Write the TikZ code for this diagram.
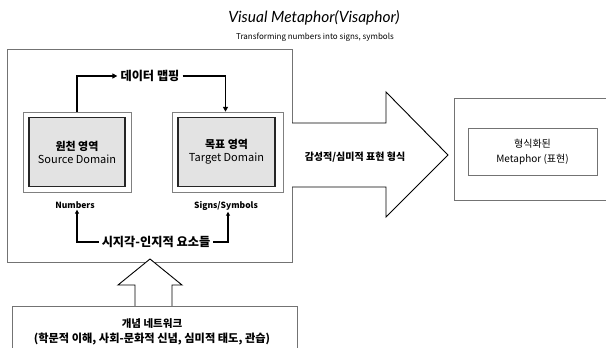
\documentclass[tikz,border=0pt]{standalone}
\usepackage{fontspec}
\setmainfont{Noto Sans CJK KR}
\newfontfamily\titlefont{Lato}
\usetikzlibrary{positioning,arrows.meta}

\begin{document}
\begin{tikzpicture}[
    x=1pt, y=-1pt,
    frame/.style={rectangle, draw=black!55, line width=0.6pt},
    outerbox/.style={rectangle, draw=black!50, line width=0.5pt, fill=white,
        minimum height=80pt},
    domainbox/.style={rectangle, draw=black!85, line width=1.6pt, fill=gray!22,
        minimum height=69pt, align=center, font=\fontsize{11}{13}\selectfont},
    tag/.style={font=\fontsize{8.5}{10}\selectfont\bfseries, inner sep=1pt},
    cue/.style={font=\fontsize{12.2}{14}\selectfont\bfseries, inner sep=3pt},
    flow/.style={-{Triangle[length=5pt,width=5pt]}, line width=1.6pt},
    link/.style={-{Triangle[length=4pt,width=4pt]}, line width=1.2pt},
    bigarrow/.style={draw=black, line width=0.9pt, fill=white}
]
\useasboundingbox (0,0) rectangle (606,348);
\clip (0,0) rectangle (606,348);

% titles
\node (title) at (314,18) {\fontsize{15.5}{17}\selectfont\titlefont\itshape Visual Metaphor(Visaphor)};
\node (subtitle) at (315,37) {\fontsize{8}{10}\selectfont Transforming numbers into signs, symbols};

% left panel
\node[frame, minimum width=285pt, minimum height=213pt] (panel) at (149.5,155.5) {};
\node[outerbox, minimum width=108pt] (srcbox) at (77,152) {};
\node[domainbox, minimum width=96pt] (src) at (77,152) {\textbf{원천 영역}\\Source Domain};
\node[outerbox, minimum width=111pt] (tgtbox) at (227.5,152) {};
\node[domainbox, minimum width=97pt] (tgt) at (226.5,152) {\textbf{목표 영역}\\Target Domain};
\node[tag] (numbers) at (75,205) {Numbers};
\node[tag] (signs) at (226,206) {Signs/Symbols};
\node[cue] (map) at (150,76) {데이터 맵핑};
\node[cue] (percept) at (156,242) {시지각-인지적 요소들};
\draw[flow] (srcbox.north) |- (map.west);
\draw[flow] (map.east) -| ([xshift=-2pt]tgtbox.north);
\draw[link] (percept.west) -| ([xshift=2pt]numbers.south);
\draw[link] (percept.east) -| ([xshift=2pt]signs.south);

% big arrow to the right
\draw[bigarrow] (292,123) -- (386,123) -- (386,92) -- (448,155) -- (386,217) -- (386,187) -- (292,187);
\node[font=\fontsize{10}{12}\selectfont\bfseries] (style) at (355,157) {감성적/심미적 표현 형식};

% result
\node[frame, minimum width=160pt, minimum height=102pt] (result) at (534,149) {};
\node[frame, minimum width=129pt, minimum height=47pt, align=center,
      font=\fontsize{10}{15}\selectfont] (meta) at (532.5,151.5) {형식화된\\Metaphor (표현)};

% concept network below
\draw[bigarrow] (135,306) -- (135,285) -- (118,285) -- (150,259) -- (182,285) -- (172,285) -- (172,306);
\node[frame, minimum width=285pt, minimum height=48pt] (network) at (154.5,330) {};
\node[font=\fontsize{10.5}{12}\selectfont\bfseries] (netname) at (152,324) {개념 네트워크};
\node[font=\fontsize{11.2}{13}\selectfont\bfseries] (netlist) at (152,339) {(학문적 이해, 사회-문화적 신념, 심미적 태도, 관습)};
\end{tikzpicture}
\end{document}
